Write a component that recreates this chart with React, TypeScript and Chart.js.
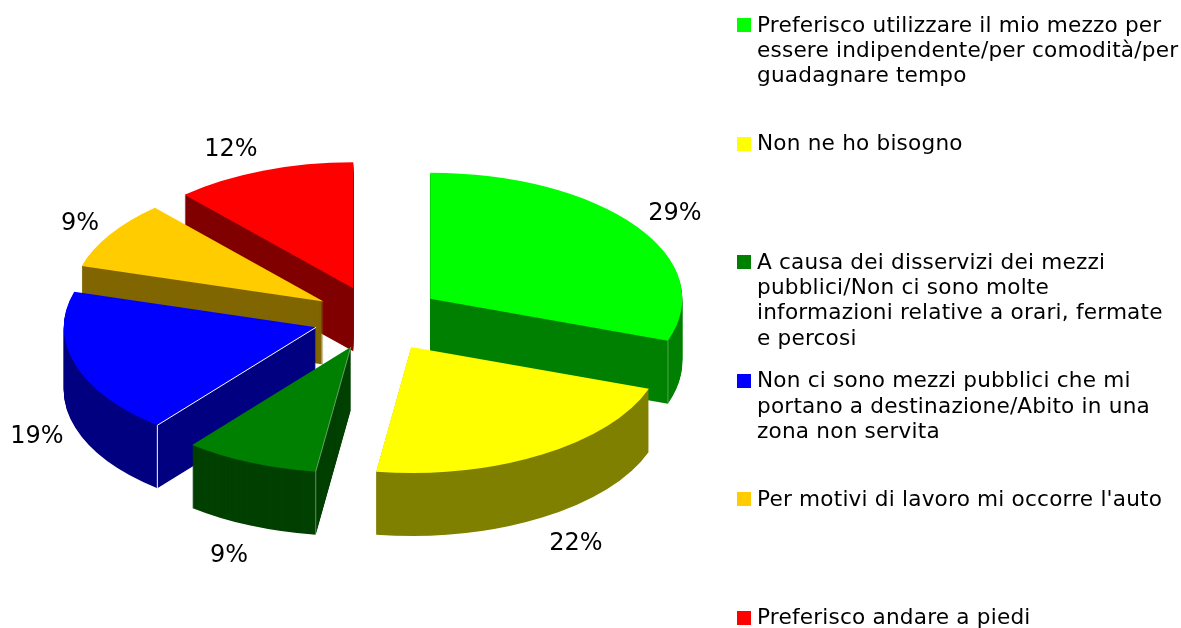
import { useEffect, useRef } from "react";
import { Chart, registerables } from "chart.js";

Chart.register(...registerables);

const categories: string[][] = [
  ["Preferisco utilizzare il mio mezzo per", "essere indipendente/per comodità/per", "guadagnare tempo"],
  ["Non ne ho bisogno"],
  ["A causa dei disservizi dei mezzi", "pubblici/Non ci sono molte", "informazioni relative a orari, fermate", "e percosi"],
  ["Non ci sono mezzi pubblici che mi", "portano a destinazione/Abito in una", "zona non servita"],
  ["Per motivi di lavoro mi occorre l'auto"],
  ["Preferisco andare a piedi"],
];
const values = [29, 22, 9, 19, 9, 12];
const topColors = ["#00ff00", "#ffff00", "#008000", "#0000ff", "#ffcc00", "#ff0000"];
const sideColors = ["#008000", "#808000", "#004000", "#000080", "#806600", "#800000"];
// Style: how far each slice is pulled out of the pie, and the order slices are painted in.
const explode = [66.5, 67.7, 63.2, 62.9, 62, 63.6];
const paintOrder = [5, 4, 0, 3, 2, 1];
// Style: the 3D projection of the original skews slice boundaries by a few degrees (boundary i = start of slice i).
const boundarySkewDeg = [0, 5, 4.4, 3, 2, 1.2, 0];
// Style: highlighted corners of the walls: which boundary of the slice, its opacity, and whether the top edge is drawn.
const cornerEdges: (null | { end: boolean; alpha: number; top: boolean })[] = [
  { end: true, alpha: 0.3, top: false },
  null,
  { end: false, alpha: 0.4, top: true },
  { end: false, alpha: 1, top: true },
  null,
  null,
];
const labelAnchors: [number, number][] = [
  [675, 214], [576, 544], [229, 556], [37, 437], [80, 224], [231, 150],
];

const TILT = 0.5;
const DEPTH = 63;
const FONT = '21.6px "DejaVu Sans"';
const LABEL_FONT = '24px "DejaVu Sans"';

const rad = (d: number) => (d * Math.PI) / 180;

const pie3d = {
  id: "pie3d",
  beforeDatasetDraw(chart: any) {
    const { ctx } = chart;
    const arcs = chart.getDatasetMeta(0).data;
    const geometry = (arc: any, i: number) => {
      const start = arc.startAngle + rad(boundarySkewDeg[i]);
      const end = arc.endAngle + rad(boundarySkewDeg[i + 1]);
      const mid = (start + end) / 2;
      return { start, end, mid };
    };
    const paint = (arc: any, i: number, dy: number, color: string) => {
      const { start, end, mid } = geometry(arc, i);
      const saved = {
        options: arc.options,
        startAngle: arc.startAngle,
        endAngle: arc.endAngle,
        circumference: arc.circumference,
      };
      arc.options = { ...saved.options, backgroundColor: color, borderWidth: 0, offset: 0 };
      arc.startAngle = start;
      arc.endAngle = end;
      arc.circumference = end - start;
      ctx.save();
      ctx.translate(arc.x, arc.y + dy);
      ctx.scale(1, TILT);
      ctx.translate(-arc.x, -arc.y);
      ctx.translate(Math.cos(mid) * explode[i], Math.sin(mid) * explode[i]);
      arc.draw(ctx);
      ctx.restore();
      Object.assign(arc, saved);
    };
    const corner = (arc: any, i: number) => {
      const edge = cornerEdges[i];
      if (!edge) return;
      const { start, end, mid } = geometry(arc, i);
      const b = edge.end ? end : start;
      const px = arc.x + Math.cos(mid) * explode[i];
      const py = arc.y + Math.sin(mid) * explode[i] * TILT;
      const qx = px + Math.cos(b) * arc.outerRadius;
      const qy = py + Math.sin(b) * arc.outerRadius * TILT;
      ctx.save();
      ctx.strokeStyle = `rgba(255,255,255,${edge.alpha})`;
      ctx.lineWidth = 1;
      ctx.beginPath();
      if (edge.top) {
        ctx.moveTo(px, py);
        ctx.lineTo(qx, qy);
      } else {
        ctx.moveTo(qx, qy);
      }
      ctx.lineTo(qx, qy + DEPTH);
      ctx.stroke();
      ctx.restore();
    };
    for (const i of paintOrder) {
      for (let d = DEPTH; d > 0; d--) paint(arcs[i], i, d, sideColors[i]);
      paint(arcs[i], i, 0, topColors[i]);
      corner(arcs[i], i);
    }
    return false;
  },
  afterDraw(chart: any) {
    const { ctx } = chart;
    ctx.save();
    ctx.fillStyle = "#000000";
    ctx.textBaseline = "middle";
    ctx.textAlign = "center";
    ctx.font = LABEL_FONT;
    values.forEach((v, i) => ctx.fillText(`${v}%`, labelAnchors[i][0], labelAnchors[i][1]));
    ctx.textAlign = "left";
    ctx.font = FONT;
    ctx.letterSpacing = "0.2px";
    categories.forEach((lines, i) => {
      const y = 25 + i * 118.5;
      ctx.fillStyle = topColors[i];
      ctx.fillRect(737, Math.round(y) - 7, 14, 14);
      ctx.fillStyle = "#000000";
      lines.forEach((line, j) => ctx.fillText(line, 757, y + 1 + j * 25.4));
    });
    ctx.restore();
  },
};

export default function App() {
  const ref = useRef<HTMLCanvasElement>(null);
  useEffect(() => {
    document.body.style.margin = "0";
    const chart = new Chart(ref.current!, {
      type: "pie",
      data: {
        labels: categories.map((c) => c.join(" ")),
        datasets: [{ data: values, backgroundColor: topColors, borderWidth: 0 }],
      },
      options: {
        animation: false,
        responsive: false,
        radius: 252,
        layout: { padding: { left: 0, right: 429, top: 8, bottom: 0 } },
        plugins: { legend: { display: false }, tooltip: { enabled: false } },
      } as any,
      plugins: [pie3d],
    });
    return () => chart.destroy();
  }, []);
  return <canvas ref={ref} width={1181} height={628} style={{ display: "block" }} />;
}
